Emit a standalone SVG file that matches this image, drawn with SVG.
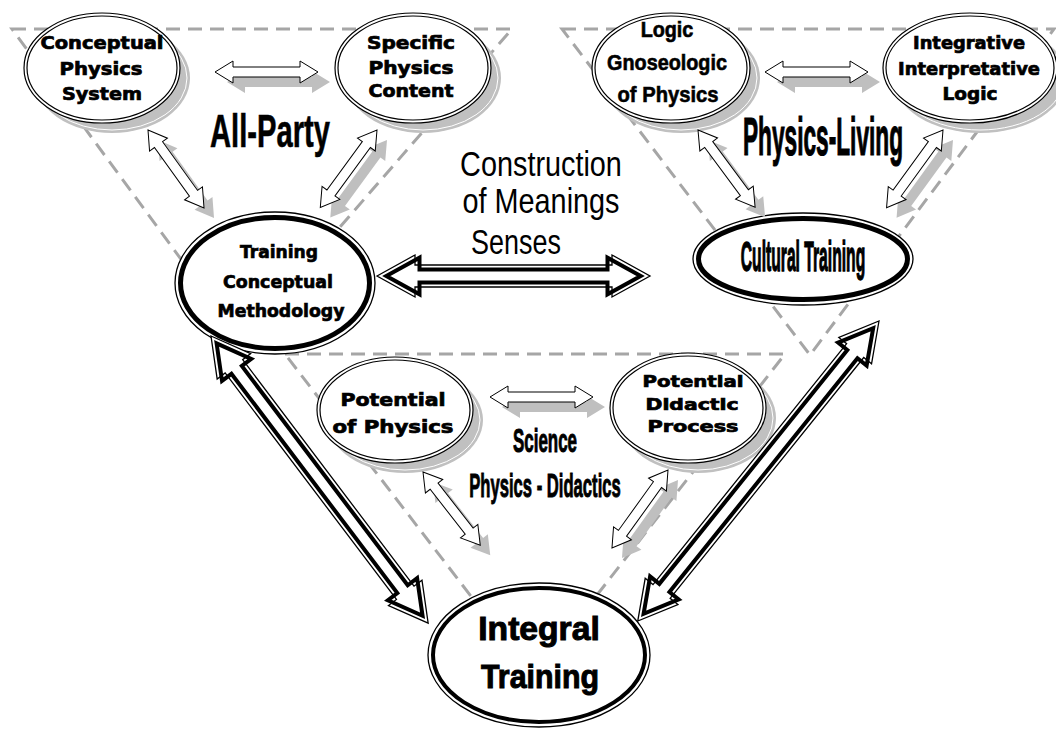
<svg xmlns="http://www.w3.org/2000/svg" width="1056" height="729" viewBox="0 0 1056 729">
<style>
.dash{fill:none;stroke:#a6a6a6;stroke-width:3;stroke-dasharray:14 8}
.shadow{fill:#c0c0c0}
.shring{fill:none;stroke:#fff;stroke-width:1}
.n-outer{fill:#fff;stroke:#000;stroke-width:1.2}
.n-inner{fill:none;stroke:#000;stroke-width:1.2}
.t-outer{fill:#fff;stroke:#000;stroke-width:1.3}
.t-inner{fill:none;stroke:#000;stroke-width:5}
.sa{fill:#fff;stroke:#000;stroke-width:1}
.sas{fill:#bfbfbf}
.ba-o{fill:#fff;stroke:#000;stroke-width:1.3}
.ba-i{fill:none;stroke:#000;stroke-width:4}
.wide{font-family:"DejaVu Sans",sans-serif;font-weight:bold;text-anchor:middle;fill:#000;stroke:#000;stroke-width:0.7}
.nar{font-family:"Liberation Sans",Arial,sans-serif;font-weight:bold;text-anchor:middle;fill:#000;stroke:#000;stroke-width:0.6}
.reg{font-family:"Liberation Sans",Arial,sans-serif;text-anchor:middle;fill:#000}
</style>
<rect width="1056" height="729" fill="#fff"/>
<g id="triangles">
<polygon class="dash" points="12,29 512,29 241,341"/>
<polygon class="dash" points="562,29 1054,29 810,355"/>
<polygon class="dash" points="285,354 785,354 533,677"/>
</g>
<g id="labels">
<text class="nar" transform="translate(270,147) scale(0.634,1)" font-size="46">All-Party</text>
<text class="nar" transform="translate(823,155) scale(0.42,1)" font-size="54" style="stroke-width:1.2">Physics-Living</text>
<text class="reg" transform="translate(541,176) scale(0.824,1)" font-size="35">Construction</text>
<text class="reg" transform="translate(541,213) scale(0.824,1)" font-size="35">of Meanings</text>
<text class="reg" transform="translate(516,254) scale(0.77,1)" font-size="35">Senses</text>
<text class="nar" transform="translate(545,452) scale(0.513,1)" font-size="33" style="stroke-width:1">Science</text>
<text class="nar" transform="translate(545,497) scale(0.489,1)" font-size="34" style="stroke-width:1">Physics - Didactics</text>
</g>
<g id="n-conceptual-physics-system">
<ellipse class="shadow" cx="112" cy="78" rx="78" ry="55"/>
<ellipse class="shring" cx="112" cy="78" rx="75" ry="52"/>
<ellipse class="n-outer" cx="102" cy="68" rx="78" ry="55"/>
<ellipse class="n-inner" cx="102" cy="68" rx="75" ry="52"/>
<text class="wide" x="102" y="49" font-size="17" textLength="123" lengthAdjust="spacingAndGlyphs">Conceptual</text>
<text class="wide" x="101" y="75" font-size="17" textLength="83" lengthAdjust="spacingAndGlyphs">Physics</text>
<text class="wide" x="102" y="100" font-size="17" textLength="80" lengthAdjust="spacingAndGlyphs">System</text>
</g>
<g id="n-specific-physics-content">
<ellipse class="shadow" cx="423" cy="78" rx="78" ry="55"/>
<ellipse class="shring" cx="423" cy="78" rx="75" ry="52"/>
<ellipse class="n-outer" cx="413" cy="68" rx="78" ry="55"/>
<ellipse class="n-inner" cx="413" cy="68" rx="75" ry="52"/>
<text class="wide" x="411" y="49" font-size="17" textLength="88" lengthAdjust="spacingAndGlyphs">Specific</text>
<text class="wide" x="411" y="74" font-size="17" textLength="85" lengthAdjust="spacingAndGlyphs">Physics</text>
<text class="wide" x="411" y="97" font-size="17" textLength="85" lengthAdjust="spacingAndGlyphs">Content</text>
</g>
<g id="n-logic-gnoseologic">
<ellipse class="shadow" cx="681" cy="78" rx="79" ry="55"/>
<ellipse class="shring" cx="681" cy="78" rx="76" ry="52"/>
<ellipse class="n-outer" cx="671" cy="68" rx="79" ry="55"/>
<ellipse class="n-inner" cx="671" cy="68" rx="76" ry="52"/>
<text class="nar" transform="translate(667,37) scale(0.9,1)" font-size="22">Logic</text>
<text class="nar" transform="translate(667,70) scale(0.9,1)" font-size="22">Gnoseologic</text>
<text class="nar" transform="translate(668,102) scale(0.918,1)" font-size="22">of Physics</text>
</g>
<g id="n-integrative-logic">
<ellipse class="shadow" cx="980" cy="78" rx="87" ry="55"/>
<ellipse class="shring" cx="980" cy="78" rx="84" ry="52"/>
<ellipse class="n-outer" cx="970" cy="68" rx="87" ry="55"/>
<ellipse class="n-inner" cx="970" cy="68" rx="84" ry="52"/>
<text class="wide" x="969" y="49" font-size="17" textLength="112" lengthAdjust="spacingAndGlyphs">Integrative</text>
<text class="wide" x="969" y="75" font-size="17" textLength="142" lengthAdjust="spacingAndGlyphs">Interpretative</text>
<text class="wide" x="970" y="100" font-size="17" textLength="55" lengthAdjust="spacingAndGlyphs">Logic</text>
</g>
<g id="n-training-conceptual-methodology">
<ellipse class="t-outer" cx="275" cy="283" rx="100" ry="71"/>
<ellipse class="t-inner" cx="275" cy="283" rx="94.5" ry="65.5"/>
<text class="wide" x="279" y="258" font-size="18" textLength="78" lengthAdjust="spacingAndGlyphs">Training</text>
<text class="wide" x="278" y="288" font-size="18" textLength="110" lengthAdjust="spacingAndGlyphs">Conceptual</text>
<text class="wide" x="281" y="317" font-size="18" textLength="127" lengthAdjust="spacingAndGlyphs">Methodology</text>
</g>
<g id="n-cultural-training">
<ellipse class="t-outer" cx="803" cy="259" rx="110" ry="46"/>
<ellipse class="t-inner" cx="803" cy="259" rx="104.5" ry="40.5"/>
<text class="nar" transform="translate(803,271) scale(0.373,1)" font-size="42" style="stroke-width:1.4">Cultural Training</text>
</g>
<g id="n-potential-of-physics">
<ellipse class="shadow" cx="405" cy="420" rx="78" ry="53"/>
<ellipse class="shring" cx="405" cy="420" rx="75" ry="50"/>
<ellipse class="n-outer" cx="395" cy="410" rx="78" ry="53"/>
<ellipse class="n-inner" cx="395" cy="410" rx="75" ry="50"/>
<text class="wide" x="393" y="406" font-size="17" textLength="105" lengthAdjust="spacingAndGlyphs">Potential</text>
<text class="wide" x="393" y="433" font-size="17" textLength="121" lengthAdjust="spacingAndGlyphs">of Physics</text>
</g>
<g id="n-potential-didactic-process">
<ellipse class="shadow" cx="698" cy="418" rx="78" ry="55"/>
<ellipse class="shring" cx="698" cy="418" rx="75" ry="52"/>
<ellipse class="n-outer" cx="688" cy="408" rx="78" ry="55"/>
<ellipse class="n-inner" cx="688" cy="408" rx="75" ry="52"/>
<text class="wide" x="693" y="387" font-size="15" textLength="101" lengthAdjust="spacingAndGlyphs">Potential</text>
<text class="wide" x="692" y="410" font-size="15" textLength="93" lengthAdjust="spacingAndGlyphs">Didactic</text>
<text class="wide" x="693" y="432" font-size="15" textLength="91" lengthAdjust="spacingAndGlyphs">Process</text>
</g>
<g id="n-integral-training">
<ellipse class="t-outer" cx="539" cy="655" rx="111" ry="72"/>
<ellipse class="t-inner" cx="539" cy="655" rx="106" ry="67" style="stroke-width:4"/>
<text class="nar" transform="translate(539,640) scale(1.02,1)" font-size="33" style="stroke-width:1">Integral</text>
<text class="nar" transform="translate(540,688) scale(0.92,1)" font-size="33" style="stroke-width:1">Training</text>
</g>
<g id="connectors">
<path class="sas" transform="translate(227,82)" d="M0,0 L18,-11 L18,-5 L85,-5 L85,-11 L103,0 L85,11 L85,5 L18,5 L18,11 Z"/>
<path class="sas" transform="translate(777,82)" d="M0,0 L18,-11 L18,-5 L85,-5 L85,-11 L103,0 L85,11 L85,5 L18,5 L18,11 Z"/>
<path class="sas" transform="translate(502,407)" d="M0,0 L18,-11 L18,-5 L85,-5 L85,-11 L103,0 L85,11 L85,5 L18,5 L18,11 Z"/>
<path class="sas" transform="translate(158,140) rotate(54.3)" d="M0,0 L18,-11 L18,-5 L78,-5 L78,-11 L96,0 L78,11 L78,5 L18,5 L18,11 Z"/>
<path class="sas" transform="translate(387,140) rotate(126.2)" d="M0,0 L18,-11 L18,-5 L78,-5 L78,-11 L96,0 L78,11 L78,5 L18,5 L18,11 Z"/>
<path class="sas" transform="translate(708,140) rotate(53.5)" d="M0,0 L18,-11 L18,-5 L78,-5 L78,-11 L96,0 L78,11 L78,5 L18,5 L18,11 Z"/>
<path class="sas" transform="translate(953,140) rotate(126)" d="M0,0 L18,-11 L18,-5 L78,-5 L78,-11 L96,0 L78,11 L78,5 L18,5 L18,11 Z"/>
<path class="sas" transform="translate(433,482) rotate(52)" d="M0,0 L18,-11 L18,-5 L75,-5 L75,-11 L93,0 L75,11 L75,5 L18,5 L18,11 Z"/>
<path class="sas" transform="translate(678,480) rotate(125.7)" d="M0,0 L18,-11 L18,-5 L78,-5 L78,-11 L96,0 L78,11 L78,5 L18,5 L18,11 Z"/>
<path class="sa" transform="translate(215,72)" d="M0,0 L18,-11 L18,-5 L85,-5 L85,-11 L103,0 L85,11 L85,5 L18,5 L18,11 Z"/>
<path class="sa" transform="translate(765,72)" d="M0,0 L18,-11 L18,-5 L85,-5 L85,-11 L103,0 L85,11 L85,5 L18,5 L18,11 Z"/>
<path class="sa" transform="translate(490,397)" d="M0,0 L18,-11 L18,-5 L85,-5 L85,-11 L103,0 L85,11 L85,5 L18,5 L18,11 Z"/>
<path class="sa" transform="translate(148,130) rotate(54.3)" d="M0,0 L18,-11 L18,-5 L78,-5 L78,-11 L96,0 L78,11 L78,5 L18,5 L18,11 Z"/>
<path class="sa" transform="translate(377,130) rotate(126.2)" d="M0,0 L18,-11 L18,-5 L78,-5 L78,-11 L96,0 L78,11 L78,5 L18,5 L18,11 Z"/>
<path class="sa" transform="translate(698,130) rotate(53.5)" d="M0,0 L18,-11 L18,-5 L78,-5 L78,-11 L96,0 L78,11 L78,5 L18,5 L18,11 Z"/>
<path class="sa" transform="translate(943,130) rotate(126)" d="M0,0 L18,-11 L18,-5 L78,-5 L78,-11 L96,0 L78,11 L78,5 L18,5 L18,11 Z"/>
<path class="sa" transform="translate(423,472) rotate(52)" d="M0,0 L18,-11 L18,-5 L75,-5 L75,-11 L93,0 L75,11 L75,5 L18,5 L18,11 Z"/>
<path class="sa" transform="translate(668,470) rotate(125.7)" d="M0,0 L18,-11 L18,-5 L78,-5 L78,-11 L96,0 L78,11 L78,5 L18,5 L18,11 Z"/>
<g transform="translate(377,276)">
<path class="ba-o" d="M0,0 L38,-21 L38,-11 L235,-11 L235,-21 L273,0 L235,21 L235,11 L38,11 L38,21 Z"/>
<path class="ba-i" d="M9.3,0 L42.5,-18.3 L42.5,-6.5 L230.5,-6.5 L230.5,-18.3 L263.7,0 L230.5,18.3 L230.5,6.5 L42.5,6.5 L42.5,18.3 Z"/>
</g>
<g transform="translate(211,336) rotate(52.9)">
<path class="ba-o" d="M0,0 L38,-21 L38,-11 L322,-11 L322,-21 L360,0 L322,21 L322,11 L38,11 L38,21 Z"/>
<path class="ba-i" d="M9.3,0 L42.5,-18.3 L42.5,-6.5 L317.5,-6.5 L317.5,-18.3 L350.7,0 L317.5,18.3 L317.5,6.5 L42.5,6.5 L42.5,18.3 Z"/>
</g>
<g transform="translate(879,321) rotate(128.8)">
<path class="ba-o" d="M0,0 L38,-21 L38,-11 L347,-11 L347,-21 L385,0 L347,21 L347,11 L38,11 L38,21 Z"/>
<path class="ba-i" d="M9.3,0 L42.5,-18.3 L42.5,-6.5 L342.5,-6.5 L342.5,-18.3 L375.7,0 L342.5,18.3 L342.5,6.5 L42.5,6.5 L42.5,18.3 Z"/>
</g>
</g>
</svg>
